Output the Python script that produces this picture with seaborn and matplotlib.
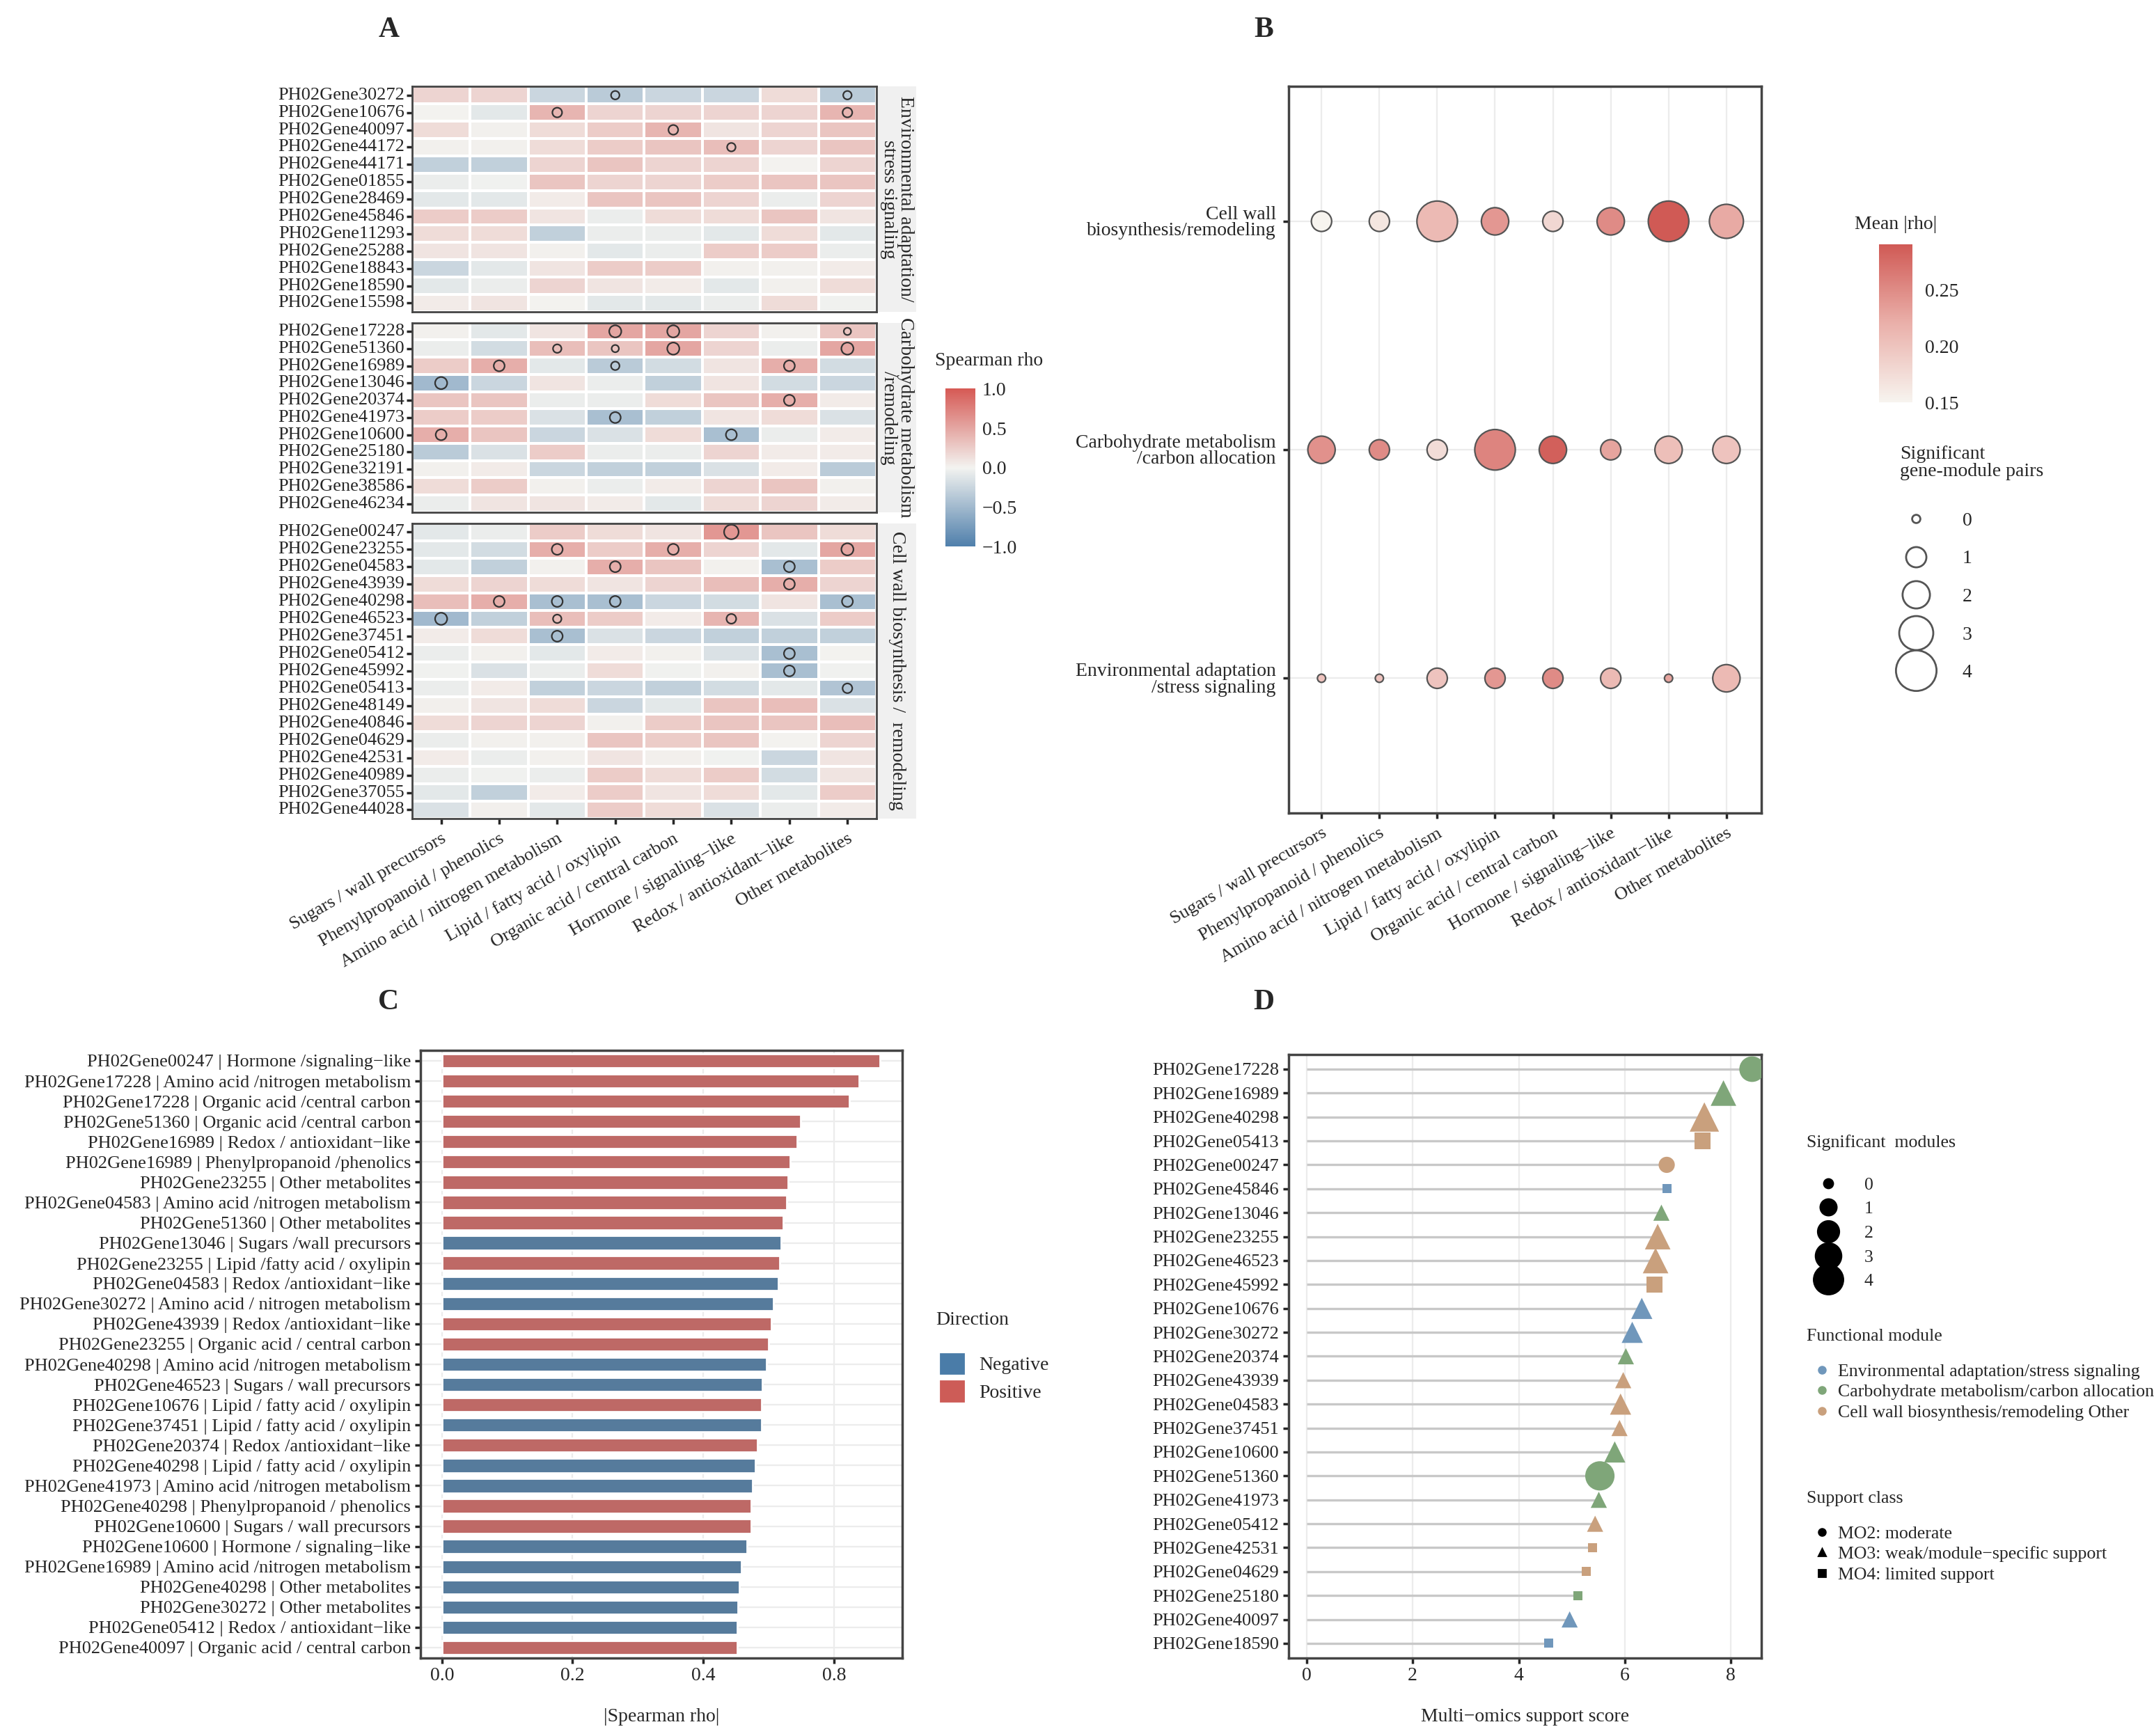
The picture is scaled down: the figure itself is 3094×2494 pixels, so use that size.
import numpy as np
import pandas as pd
import matplotlib
matplotlib.use("Agg")
import matplotlib.pyplot as plt
import seaborn as sns
from matplotlib.colors import LinearSegmentedColormap, Normalize
from matplotlib.lines import Line2D

sns.set_theme(style="white")
plt.rcParams['font.family'] = ['Liberation Serif', 'DejaVu Serif']

# ---------------- data ----------------
modules = ["Sugars / wall precursors", "Phenylpropanoid / phenolics", "Amino acid / nitrogen metabolism",
           "Lipid / fatty acid / oxylipin", "Organic acid / central carbon", "Hormone / signaling\u2212like",
           "Redox / antioxidant\u2212like", "Other metabolites"]

env_genes = ["PH02Gene30272", "PH02Gene10676", "PH02Gene40097", "PH02Gene44172", "PH02Gene44171",
             "PH02Gene01855", "PH02Gene28469", "PH02Gene45846", "PH02Gene11293", "PH02Gene25288",
             "PH02Gene18843", "PH02Gene18590", "PH02Gene15598"]
env_rho = [[0.2, 0.2, -0.25, -0.35, -0.25, -0.25, 0.15, -0.35],
           [0.0, -0.1, 0.4, 0.2, 0.2, 0.2, 0.2, 0.4],
           [0.15, 0.02, 0.15, 0.25, 0.4, 0.1, 0.2, 0.3],
           [0.02, 0.02, 0.15, 0.25, 0.3, 0.35, 0.2, 0.3],
           [-0.3, -0.3, 0.2, 0.3, 0.2, 0.2, 0.0, 0.2],
           [-0.05, -0.02, 0.3, 0.2, 0.2, 0.25, 0.3, 0.3],
           [-0.1, -0.1, 0.05, 0.3, 0.3, 0.2, -0.05, 0.2],
           [0.25, 0.25, 0.1, -0.05, 0.15, 0.15, 0.3, 0.1],
           [0.15, 0.15, -0.3, -0.05, -0.05, -0.1, 0.15, -0.1],
           [0.1, 0.1, 0.02, -0.1, -0.05, 0.25, 0.25, -0.05],
           [-0.25, -0.1, 0.1, 0.25, 0.25, 0.02, 0.02, 0.05],
           [-0.1, -0.05, 0.2, 0.1, 0.05, -0.1, 0.02, 0.15],
           [0.05, 0.1, 0.0, -0.1, -0.1, -0.05, 0.15, -0.02]]
env_sig = [(0, 3), (0, 7), (1, 2), (1, 7), (2, 4), (3, 5)]

carb_genes = ["PH02Gene17228", "PH02Gene51360", "PH02Gene16989", "PH02Gene13046", "PH02Gene20374",
              "PH02Gene41973", "PH02Gene10600", "PH02Gene25180", "PH02Gene32191", "PH02Gene38586",
              "PH02Gene46234"]
carb_rho = [[0.02, -0.1, 0.1, 0.5, 0.5, 0.2, 0.02, 0.3],
            [-0.05, -0.2, 0.35, 0.3, 0.5, 0.2, -0.05, 0.5],
            [0.25, 0.45, -0.1, -0.35, -0.2, 0.1, 0.45, -0.2],
            [-0.5, -0.25, 0.1, -0.05, -0.3, 0.1, -0.2, -0.25],
            [0.3, 0.3, -0.05, -0.05, 0.15, 0.3, 0.45, 0.05],
            [0.25, 0.25, -0.15, -0.45, -0.3, 0.1, 0.15, -0.15],
            [0.45, 0.3, -0.25, -0.15, 0.15, -0.45, -0.05, 0.05],
            [-0.35, -0.15, 0.25, -0.05, -0.05, 0.2, 0.05, 0.05],
            [0.02, 0.05, -0.25, -0.3, -0.3, -0.15, 0.05, -0.35],
            [0.15, 0.25, 0.02, -0.05, 0.05, 0.2, 0.3, 0.02],
            [-0.05, 0.1, 0.1, 0.05, -0.1, 0.15, 0.2, 0.05]]
carb_sig = [(0, 3), (0, 4), (0, 7), (1, 2), (1, 3), (1, 4), (1, 7), (2, 1), (2, 3), (2, 6),
            (3, 0), (4, 6), (5, 3), (6, 0), (6, 5)]

cell_genes = ["PH02Gene00247", "PH02Gene23255", "PH02Gene04583", "PH02Gene43939", "PH02Gene40298",
              "PH02Gene46523", "PH02Gene37451", "PH02Gene05412", "PH02Gene45992", "PH02Gene05413",
              "PH02Gene48149", "PH02Gene40846", "PH02Gene04629", "PH02Gene42531", "PH02Gene40989",
              "PH02Gene37055", "PH02Gene44028"]
cell_rho = [[-0.1, -0.05, 0.25, 0.15, 0.1, 0.6, 0.3, 0.15],
            [-0.1, -0.2, 0.45, 0.25, 0.45, 0.2, -0.1, 0.5],
            [-0.1, -0.3, 0.02, 0.45, 0.3, 0.02, -0.45, 0.25],
            [0.15, 0.2, 0.15, 0.1, 0.2, 0.35, 0.45, 0.2],
            [0.35, 0.45, -0.45, -0.45, -0.25, -0.2, 0.1, -0.45],
            [-0.5, -0.3, 0.35, 0.25, 0.05, 0.4, -0.15, 0.25],
            [0.05, 0.15, -0.45, -0.15, -0.25, -0.3, -0.3, -0.3],
            [-0.05, 0.02, -0.1, 0.05, 0.02, -0.15, -0.45, 0.0],
            [-0.02, -0.15, -0.05, 0.15, -0.02, 0.02, -0.45, -0.02],
            [-0.05, 0.05, -0.3, -0.25, -0.3, -0.2, -0.1, -0.4],
            [0.03, 0.1, 0.15, -0.25, -0.1, 0.3, 0.35, -0.15],
            [0.15, 0.2, 0.2, 0.02, 0.25, 0.3, 0.3, 0.35],
            [-0.05, 0.02, 0.02, 0.3, 0.25, 0.3, 0.0, 0.2],
            [0.05, -0.05, 0.02, 0.1, 0.03, -0.02, -0.25, 0.1],
            [-0.05, -0.02, -0.05, 0.25, 0.15, 0.25, -0.2, 0.1],
            [-0.1, -0.3, 0.05, 0.25, 0.1, 0.15, -0.1, 0.25],
            [-0.15, 0.03, -0.1, 0.25, 0.15, -0.15, -0.05, 0.05]]
cell_sig = [(0, 5), (1, 2), (1, 4), (1, 7), (2, 3), (2, 6), (3, 6), (4, 1), (4, 2), (4, 3), (4, 7),
            (5, 0), (5, 2), (5, 5), (6, 2), (7, 6), (8, 6), (9, 7)]

group_strips = ["Environmental adaptation/\nstress signaling", "Carbohydrate metabolism\n/remodeling",
                "Cell wall biosynthesis /  remodeling"]

# panel B
b_rows = ["Environmental adaptation\n/stress signaling", "Carbohydrate metabolism\n/carbon allocation",
          "Cell wall\nbiosynthesis/remodeling"]
b_mean_env = [0.20, 0.20, 0.20, 0.24, 0.25, 0.21, 0.23, 0.21]
b_mean_carb = [0.245, 0.25, 0.175, 0.255, 0.285, 0.23, 0.205, 0.2]
b_mean_cell = [0.15, 0.165, 0.21, 0.24, 0.18, 0.25, 0.29, 0.225]
b_n_env = [0, 0, 1, 1, 1, 1, 0, 2]
b_n_carb = [2, 1, 1, 4, 2, 1, 2, 2]
b_n_cell = [1, 1, 4, 2, 1, 2, 4, 3]

# panel C
c_labels = ["PH02Gene00247 | Hormone /signaling\u2212like", "PH02Gene17228 | Amino acid /nitrogen metabolism",
            "PH02Gene17228 | Organic acid /central carbon", "PH02Gene51360 | Organic acid /central carbon",
            "PH02Gene16989 | Redox / antioxidant\u2212like", "PH02Gene16989 | Phenylpropanoid /phenolics",
            "PH02Gene23255 | Other metabolites", "PH02Gene04583 | Amino acid /nitrogen metabolism",
            "PH02Gene51360 | Other metabolites", "PH02Gene13046 | Sugars /wall precursors",
            "PH02Gene23255 | Lipid /fatty acid / oxylipin", "PH02Gene04583 | Redox /antioxidant\u2212like",
            "PH02Gene30272 | Amino acid / nitrogen metabolism", "PH02Gene43939 | Redox /antioxidant\u2212like",
            "PH02Gene23255 | Organic acid / central carbon", "PH02Gene40298 | Amino acid /nitrogen metabolism",
            "PH02Gene46523 | Sugars / wall precursors", "PH02Gene10676 | Lipid / fatty acid / oxylipin",
            "PH02Gene37451 | Lipid / fatty acid / oxylipin", "PH02Gene20374 | Redox /antioxidant\u2212like",
            "PH02Gene40298 | Lipid / fatty acid / oxylipin", "PH02Gene41973 | Amino acid /nitrogen metabolism",
            "PH02Gene40298 | Phenylpropanoid / phenolics", "PH02Gene10600 | Sugars / wall precursors",
            "PH02Gene10600 | Hormone / signaling\u2212like", "PH02Gene16989 | Amino acid /nitrogen metabolism",
            "PH02Gene40298 | Other metabolites", "PH02Gene30272 | Other metabolites",
            "PH02Gene05412 | Redox / antioxidant\u2212like", "PH02Gene40097 | Organic acid / central carbon"]
c_values = [0.670, 0.639, 0.624, 0.549, 0.544, 0.533, 0.530, 0.528, 0.522, 0.519, 0.517, 0.515, 0.507,
            0.504, 0.500, 0.497, 0.490, 0.489, 0.489, 0.483, 0.480, 0.476, 0.473, 0.473, 0.467, 0.458,
            0.455, 0.453, 0.452, 0.452]
c_direction = ["Positive"] * 9 + ["Negative", "Positive", "Negative", "Negative", "Positive", "Positive",
                                  "Negative", "Negative", "Positive", "Negative", "Positive", "Negative",
                                  "Negative", "Positive", "Positive", "Negative", "Negative", "Negative",
                                  "Negative", "Negative", "Positive"]
c_tick_labels = ["0.0", "0.2", "0.4", "0.8"]

# panel D
d_genes = ["PH02Gene17228", "PH02Gene16989", "PH02Gene40298", "PH02Gene05413", "PH02Gene00247",
           "PH02Gene45846", "PH02Gene13046", "PH02Gene23255", "PH02Gene46523", "PH02Gene45992",
           "PH02Gene10676", "PH02Gene30272", "PH02Gene20374", "PH02Gene43939", "PH02Gene04583",
           "PH02Gene37451", "PH02Gene10600", "PH02Gene51360", "PH02Gene41973", "PH02Gene05412",
           "PH02Gene42531", "PH02Gene04629", "PH02Gene25180", "PH02Gene40097", "PH02Gene18590"]
d_score = [8.4, 7.86, 7.5, 7.47, 6.79, 6.79, 6.69, 6.62, 6.58, 6.56, 6.32, 6.14, 6.02, 5.97, 5.92,
           5.9, 5.81, 5.53, 5.51, 5.44, 5.39, 5.27, 5.12, 4.96, 4.56]
d_module = ["Carb", "Carb", "Cell", "Cell", "Cell", "Env", "Carb", "Cell", "Cell", "Cell", "Env", "Env",
            "Carb", "Cell", "Cell", "Cell", "Carb", "Carb", "Carb", "Cell", "Cell", "Cell", "Carb", "Env", "Env"]
d_support = ["MO2", "MO3", "MO3", "MO4", "MO2", "MO4", "MO3", "MO3", "MO3", "MO4", "MO3", "MO3", "MO3",
             "MO3", "MO3", "MO3", "MO3", "MO2", "MO3", "MO3", "MO4", "MO4", "MO4", "MO3", "MO4"]
d_nsig = [3, 3, 4, 1, 1, 0, 1, 3, 3, 1, 2, 2, 1, 1, 2, 1, 2, 4, 1, 1, 0, 0, 0, 1, 0]

# ---------------- layout helpers ----------------
W, H = 1568, 1264
fig = plt.figure(figsize=(15.47, 12.47), dpi=200)


def rect(x0, y0, x1, y1):
    return [x0 / W, 1 - y1 / H, (x1 - x0) / W, (y1 - y0) / H]


def letter(x, y, s):
    fig.text(x / W, 1 - y / H, s, fontsize=15, fontweight="bold", ha="center", va="center")


FS = 9.5
heat_cmap = LinearSegmentedColormap.from_list("rb", ["#4f7fab", "#f3f3f0", "#d65a55"])
edge = "#444444"

# ---------------- Panel A ----------------
letter(283, 22, "A")
groups = [(env_genes, env_rho, env_sig, 63, 227), (carb_genes, carb_rho, carb_sig, 235, 373),
          (cell_genes, cell_rho, cell_sig, 381, 596)]
cax_a = fig.add_axes(rect(688, 283, 710, 398))
for gi, (genes, rho, sig, y0, y1) in enumerate(groups):
    ax = fig.add_axes(rect(300, y0, 638, y1))
    df = pd.DataFrame(rho, index=genes, columns=modules)
    sns.heatmap(df, ax=ax, cmap=heat_cmap, vmin=-1, vmax=1, linewidths=0.8, linecolor="white",
                cbar=(gi == 0), cbar_ax=cax_a if gi == 0 else None,
                yticklabels=genes, xticklabels=modules if gi == 2 else False)
    arr = np.array(rho)
    rr = [r for r, c in sig]
    cc = [c for r, c in sig]
    sdf = pd.DataFrame({"x": np.array(cc) + 0.5, "y": np.array(rr) + 0.5,
                        "s": (np.abs(arr[rr, cc]) * 12.5) ** 2})
    ax.scatter(sdf["x"], sdf["y"], s=sdf["s"], facecolors="none", edgecolors="#333333", linewidths=0.8)
    for sp in ax.spines.values():
        sp.set_visible(True)
        sp.set_color(edge)
        sp.set_linewidth(1.0)
    ax.tick_params(axis="y", length=3, labelsize=FS, labelrotation=0, left=True, pad=1)
    ax.set_ylabel("")
    ax.set_xlabel("")
    if gi == 2:
        ax.tick_params(axis="x", length=3, bottom=True)
        plt.setp(ax.get_xticklabels(), rotation=30, ha="right", rotation_mode="anchor", fontsize=FS)
    # strip
    sax = fig.add_axes(rect(639, y0, 667, y1))
    sax.set_facecolor("#f0f0f0")
    sax.set_xticks([])
    sax.set_yticks([])
    for sp in sax.spines.values():
        sp.set_visible(False)
    sax.text(0.5, 0.5, group_strips[gi], rotation=-90, ha="center", va="center", fontsize=10,
             transform=sax.transAxes, linespacing=0.9)
fig.text(720 / W, 1 - 263 / H, "Spearman rho", fontsize=10, ha="center", va="center")
cax_a.tick_params(labelsize=10, length=0)
cax_a.set_yticks([-1, -0.5, 0, 0.5, 1])
cax_a.set_yticklabels(["\u22121.0", "\u22120.5", "0.0", "0.5", "1.0"])

# ---------------- Panel B ----------------
letter(920, 22, "B")
axb = fig.add_axes(rect(938, 63, 1282, 592))
bdf = pd.DataFrame({
    "module": modules * 3,
    "x": list(range(8)) * 3,
    "y": [0] * 8 + [1] * 8 + [2] * 8,
    "mean": b_mean_env + b_mean_carb + b_mean_cell,
    "n": b_n_env + b_n_carb + b_n_cell,
})
b_cmap = LinearSegmentedColormap.from_list("bm", ["#f7f4ef", "#eab0aa", "#d05a55"])
b_norm = Normalize(0.15, 0.29)
size_map_b = {0: 18, 1: 110, 2: 200, 3: 310, 4: 440}
sns.scatterplot(data=bdf, x="x", y="y", hue="mean", palette=b_cmap, hue_norm=b_norm, size="n",
                sizes=size_map_b, size_norm=(0, 4), edgecolor="#555555", linewidth=0.8, ax=axb, legend=False)
axb.set_xlim(-0.57, 7.6)
axb.set_ylim(-0.59, 2.59)
axb.set_xticks(range(8))
axb.set_xticklabels(modules, rotation=30, ha="right", rotation_mode="anchor", fontsize=FS)
axb.set_yticks([0, 1, 2])
axb.set_yticklabels(b_rows, fontsize=10, linespacing=0.9)
axb.set_xlabel("")
axb.set_ylabel("")
axb.grid(True, color="#ececec", linewidth=0.8)
axb.tick_params(length=3, bottom=True, left=True)
for sp in axb.spines.values():
    sp.set_color(edge)
cbx = fig.add_axes(rect(1368, 178, 1392, 293))
sm = plt.cm.ScalarMappable(norm=b_norm, cmap=b_cmap)
cb = fig.colorbar(sm, cax=cbx)
cb.set_ticks([0.15, 0.20, 0.25])
cb.ax.tick_params(labelsize=10, length=3, color="white")
cb.outline.set_visible(False)
cbx.set_title("Mean |rho|", fontsize=10, pad=8)
fig.text(1383 / W, 1 - 337 / H, "Significant\ngene-module pairs", fontsize=10, va="center", linespacing=1.0)
leg_b = [Line2D([], [], marker="o", linestyle="", markerfacecolor="white", markeredgecolor="#555555",
                markersize=np.sqrt(size_map_b[k]), label=str(k)) for k in range(5)]
fig.legend(handles=leg_b, loc="upper left", bbox_to_anchor=(1368 / W, 1 - 360 / H), frameon=False,
           fontsize=10, labelspacing=1.05, handletextpad=1.4)

# ---------------- Panel C ----------------
letter(283, 730, "C")
axc = fig.add_axes(rect(306, 765, 657, 1207))
cdf = pd.DataFrame({"label": c_labels, "value": c_values, "Direction": c_direction})
sns.barplot(data=cdf, y="label", x="value", hue="Direction", dodge=False, orient="h",
            palette={"Negative": "#4a7ca8", "Positive": "#cd5c57"}, width=0.7, ax=axc, legend=False)
axc.set_xlim(-0.033, 0.705)
axc.set_xticks([0, 0.2, 0.4, 0.6])
axc.set_xticklabels(c_tick_labels, fontsize=10)
axc.set_yticks(range(len(c_labels)))
axc.set_yticklabels(c_labels, fontsize=FS)
axc.set_ylabel("")
axc.set_xlabel("|Spearman rho|", fontsize=10, labelpad=12)
axc.grid(True, color="#ececec", linewidth=0.8)
axc.set_axisbelow(True)
axc.tick_params(length=3, bottom=True, left=True, pad=2)
for sp in axc.spines.values():
    sp.set_color(edge)
fig.text(681 / W, 1 - 961 / H, "Direction", fontsize=10, va="center")
leg_c = [plt.Rectangle((0, 0), 1, 1, color="#4a7ca8", label="Negative"),
         plt.Rectangle((0, 0), 1, 1, color="#cd5c57", label="Positive")]
fig.legend(handles=leg_c, loc="upper left", bbox_to_anchor=(672 / W, 1 - 973 / H), frameon=False,
           fontsize=10, handlelength=1.2, handleheight=1.2, labelspacing=0.35)

# ---------------- Panel D ----------------
letter(920, 730, "D")
axd = fig.add_axes(rect(938, 768, 1282, 1207))
mod_colors = {"Env": "#7097bb", "Carb": "#7fa679", "Cell": "#c9a07d"}
markers = {"MO2": "o", "MO3": "^", "MO4": "s"}
ddf = pd.DataFrame({"gene": d_genes, "score": d_score, "module": d_module,
                    "support": d_support, "nsig": d_nsig})
ddf["y"] = np.arange(len(ddf))
axd.hlines(ddf["y"], 0, ddf["score"], color="#c8c8c8", linewidth=1.2, zorder=1)
size_map_d = {0: 22, 1: 70, 2: 120, 3: 175, 4: 230}
sns.scatterplot(data=ddf, x="score", y="y", hue="module", palette=mod_colors, style="support",
                markers=markers, size="nsig", sizes=size_map_d, size_norm=(0, 4), linewidth=0,
                ax=axd, legend=False, zorder=3)
axd.set_ylim(len(ddf) - 0.4, -0.6)
axd.set_xlim(-0.34, 8.57)
axd.set_xticks([0, 2, 4, 6, 8])
axd.set_xticklabels(["0", "2", "4", "6", "8"], fontsize=10)
axd.set_yticks(ddf["y"])
axd.set_yticklabels(d_genes, fontsize=FS)
axd.set_ylabel("")
axd.set_xlabel("Multi\u2212omics support score", fontsize=10, labelpad=12)
axd.grid(True, axis="x", color="#ececec", linewidth=0.8)
axd.tick_params(length=3, bottom=True, left=True, pad=2)
for sp in axd.spines.values():
    sp.set_color(edge)

LFS = 9.3
fig.text(1315 / W, 1 - 832 / H, "Significant  modules", fontsize=LFS, va="center")
leg_d1 = [Line2D([], [], marker="o", linestyle="", color="black", markersize=np.sqrt(size_map_d[k]),
                 label=str(k)) for k in range(5)]
fig.legend(handles=leg_d1, loc="upper left", bbox_to_anchor=(1306 / W, 1 - 845 / H), frameon=False,
           fontsize=LFS, labelspacing=0.45, handletextpad=1.0)
fig.text(1315 / W, 1 - 973 / H, "Functional module", fontsize=LFS, va="center")
mod_names = {"Env": "Environmental adaptation/stress signaling", "Carb": "Carbohydrate metabolism/carbon allocation",
             "Cell": "Cell wall biosynthesis/remodeling Other"}
leg_d2 = [Line2D([], [], marker="o", linestyle="", color=mod_colors[k], markersize=3.5, label=mod_names[k])
          for k in ["Env", "Carb", "Cell"]]
fig.legend(handles=leg_d2, loc="upper left", bbox_to_anchor=(1308 / W, 1 - 981 / H), frameon=False,
           fontsize=LFS, labelspacing=0.25, handletextpad=0.4, handlelength=1.0)
fig.text(1315 / W, 1 - 1091 / H, "Support class", fontsize=LFS, va="center")
sup_names = {"MO2": "MO2: moderate", "MO3": "MO3: weak/module\u2212specific support", "MO4": "MO4: limited support"}
leg_d3 = [Line2D([], [], marker=markers[k], linestyle="", color="black", markersize=3.5, label=sup_names[k])
          for k in ["MO2", "MO3", "MO4"]]
fig.legend(handles=leg_d3, loc="upper left", bbox_to_anchor=(1308 / W, 1 - 1099 / H), frameon=False,
           fontsize=LFS, labelspacing=0.25, handletextpad=0.4, handlelength=1.0)

fig.savefig("out.png", dpi=200, facecolor="white")
